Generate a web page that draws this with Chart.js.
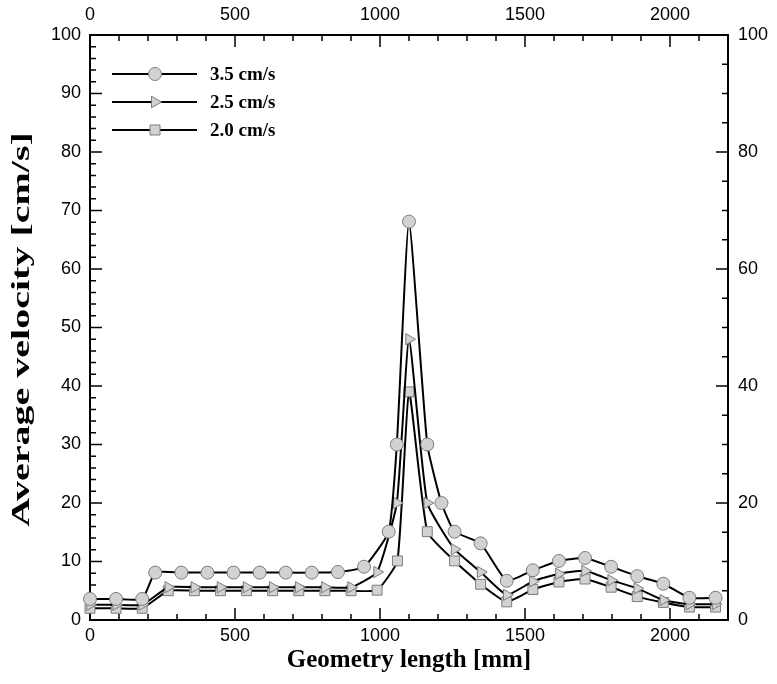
<!DOCTYPE html>
<html lang="en">
<head>
<meta charset="UTF-8">
<title>Average velocity - geometry length</title>
<script src="https://cdn.jsdelivr.net/npm/chart.js"></script>
<style>
    html, body { margin: 0; padding: 0; background: #fff; }
    #caixa { width: 777px; height: 684px; }
</style>
</head>
<body>
<div id="caixa"><canvas id="grafico"></canvas></div>
<script>
// valores
const legendas = ['3.5 cm/s', '2.5 cm/s', '2.0 cm/s'];

const x35 = [0, 90, 180, 225, 315, 405, 495, 585, 675, 765, 855, 945, 1030, 1058, 1100, 1163, 1212, 1257, 1347, 1437, 1527, 1617, 1707, 1797, 1887, 1977, 2067, 2157];
const v35 = [3.6, 3.6, 3.6, 8.1, 8.1, 8.1, 8.1, 8.1, 8.1, 8.1, 8.2, 9.1, 15.1, 30, 68.1, 30, 20, 15.1, 13.1, 6.7, 8.5, 10.1, 10.6, 9.1, 7.5, 6.2, 3.8, 3.8];

const x25 = [0, 90, 180, 270, 360, 450, 540, 630, 720, 810, 900, 990, 1058, 1100, 1163, 1257, 1347, 1437, 1527, 1617, 1707, 1797, 1887, 1977, 2067, 2157];
const v25 = [2.6, 2.6, 2.6, 5.6, 5.6, 5.6, 5.6, 5.6, 5.6, 5.6, 5.6, 8.2, 20, 48, 20, 12.1, 8.2, 4.3, 6.6, 7.9, 8.4, 6.8, 5.4, 3.4, 2.7, 2.7];

const x20 = [0, 90, 180, 270, 360, 450, 540, 630, 720, 810, 900, 990, 1060, 1100, 1163, 1257, 1347, 1437, 1527, 1617, 1707, 1797, 1887, 1977, 2067, 2157];
const v20 = [2.0, 2.0, 2.0, 5.0, 5.0, 5.0, 5.0, 5.0, 5.0, 5.0, 5.0, 5.1, 10.1, 39, 15.1, 10.1, 6.1, 3.1, 5.2, 6.5, 7.0, 5.6, 4.0, 3.0, 2.2, 2.2];

// rotulos dos eixos
const ticksBaixo = [0, 500, 1000, 1500, 2000];
const ticksCima = [0, 500, 1000, 1500, 2000];
const ticksEsq = [0, 10, 20, 30, 40, 50, 60, 70, 80, 90, 100];
const ticksDir = [0, 20, 40, 60, 80, 100];

const tituloX = 'Geometry length [mm]';
const tituloY = 'Average velocity [cm/s]';

const fonteNum = { family: "'Liberation Sans', Arial, sans-serif", size: 18 };
const fonteTitulo = { family: "'Liberation Serif', 'Times New Roman', serif", size: 25, weight: 'bold' };

function pontos(xs, ys) {
    return xs.map((x, i) => ({ x: x, y: ys[i] }));
}

function serie(nome, xs, ys, estilo, raio, rot) {
    return {
        label: nome,
        data: pontos(xs, ys),
        borderColor: '#000',
        borderWidth: 2,
        tension: 0.15,
        pointStyle: estilo,
        pointRadius: raio,
        pointHoverRadius: raio,
        pointRotation: rot,
        pointBackgroundColor: '#d2d2d2',
        pointBorderColor: '#7c7c7c',
        pointBorderWidth: 1,
        clip: false
    };
}

// marcas de escala para dentro + moldura
const marcas = {
    id: 'marcas',
    beforeDatasetsDraw(chart) {
        const ctx = chart.ctx;
        const a = chart.chartArea;
        const s = chart.scales;
        ctx.save();
        ctx.strokeStyle = '#000';
        ctx.lineWidth = 1.5;
        ctx.beginPath();
        for (let v = 0; v <= 2200; v += 100) {
            const px = s.x.getPixelForValue(v);
            const len = v % 500 === 0 ? 12 : 6;
            ctx.moveTo(px, a.bottom); ctx.lineTo(px, a.bottom - len);
            ctx.moveTo(px, a.top); ctx.lineTo(px, a.top + len);
        }
        for (let v = 0; v <= 100; v += 2) {
            const py = s.y.getPixelForValue(v);
            const len = v % 10 === 0 ? 12 : 6;
            ctx.moveTo(a.left, py); ctx.lineTo(a.left + len, py);
        }
        for (let v = 0; v <= 100; v += 5) {
            const py = s.y2.getPixelForValue(v);
            const len = v % 20 === 0 ? 12 : 6;
            ctx.moveTo(a.right, py); ctx.lineTo(a.right - len, py);
        }
        ctx.stroke();
        ctx.lineWidth = 2;
        ctx.strokeRect(a.left, a.top, a.right - a.left, a.bottom - a.top);
        ctx.restore();
    }
};

// titulo do eixo y (esticado como no original)
const tituloEsq = {
    id: 'tituloEsq',
    afterDraw(chart) {
        const ctx = chart.ctx;
        const a = chart.chartArea;
        ctx.save();
        ctx.translate(23, (a.top + a.bottom) / 2 + 2);
        ctx.rotate(-Math.PI / 2);
        ctx.scale(1.6, 1);
        ctx.fillStyle = '#000';
        ctx.font = "bold 25px 'Liberation Serif', 'Times New Roman', serif";
        ctx.textAlign = 'center';
        ctx.textBaseline = 'middle';
        ctx.fillText(tituloY, 0, 0);
        ctx.restore();
    }
};

function desenhaMarcador(ctx, estilo, x, y) {
    ctx.beginPath();
    if (estilo === 'circle') {
        ctx.arc(x, y, 6.5, 0, Math.PI * 2);
    } else if (estilo === 'triangle') {
        ctx.moveTo(x + 6.5, y);
        ctx.lineTo(x - 3.5, y - 5.8);
        ctx.lineTo(x - 3.5, y + 5.8);
        ctx.closePath();
    } else {
        ctx.rect(x - 5, y - 5, 10, 10);
    }
    ctx.fillStyle = '#d2d2d2';
    ctx.fill();
    ctx.lineWidth = 1;
    ctx.strokeStyle = '#7c7c7c';
    ctx.stroke();
}

const legendaDentro = {
    id: 'legendaDentro',
    afterDraw(chart) {
        const ctx = chart.ctx;
        const linhasY = [74, 102, 130];
        ctx.save();
        chart.data.datasets.forEach((ds, i) => {
            const y = linhasY[i];
            ctx.beginPath();
            ctx.moveTo(112, y);
            ctx.lineTo(197, y);
            ctx.lineWidth = 2;
            ctx.strokeStyle = '#000';
            ctx.stroke();
            desenhaMarcador(ctx, ds.pointStyle, 155, y);
            ctx.fillStyle = '#000';
            ctx.font = "bold 19px 'Liberation Serif', 'Times New Roman', serif";
            ctx.textBaseline = 'middle';
            ctx.textAlign = 'left';
            ctx.fillText(ds.label, 210, y + 1);
        });
        ctx.restore();
    }
};

function fixaTicks(lista) {
    return function (scale) {
        scale.ticks = lista.map(v => ({ value: v }));
    };
}

const semVirgula = v => String(v);

const config = {
    type: 'line',
    data: {
        datasets: [
            serie(legendas[0], x35, v35, 'circle', 6.5, 0),
            serie(legendas[1], x25, v25, 'triangle', 6.5, 90),
            serie(legendas[2], x20, v20, 'rect', 7, 0)
        ]
    },
    options: {
        responsive: true,
        maintainAspectRatio: false,
        animation: false,
        events: [],
        layout: { padding: 0 },
        plugins: {
            legend: { display: false },
            tooltip: { enabled: false }
        },
        scales: {
            x: {
                type: 'linear', position: 'bottom', min: 0, max: 2200,
                afterBuildTicks: fixaTicks(ticksBaixo),
                afterFit: s => { s.height = 64; },
                grid: { display: false, drawTicks: false },
                border: { display: false },
                ticks: { color: '#000', font: fonteNum, padding: 5, maxRotation: 0, callback: semVirgula },
                title: { display: true, text: tituloX, color: '#000', font: fonteTitulo, padding: { top: 8, bottom: 8 } }
            },
            x2: {
                type: 'linear', position: 'top', min: 0, max: 2200,
                afterBuildTicks: fixaTicks(ticksCima),
                afterFit: s => { s.height = 35; },
                grid: { display: false, drawTicks: false },
                border: { display: false },
                ticks: { color: '#000', font: fonteNum, padding: 9, maxRotation: 0, callback: semVirgula }
            },
            y: {
                type: 'linear', position: 'left', min: 0, max: 100,
                afterBuildTicks: fixaTicks(ticksEsq),
                afterFit: s => { s.width = 90; },
                grid: { display: false, drawTicks: false },
                border: { display: false },
                ticks: { color: '#000', font: fonteNum, padding: 9, callback: semVirgula }
            },
            y2: {
                type: 'linear', position: 'right', min: 0, max: 100,
                afterBuildTicks: fixaTicks(ticksDir),
                afterFit: s => { s.width = 49; },
                grid: { display: false, drawTicks: false },
                border: { display: false },
                ticks: { color: '#000', font: fonteNum, padding: 10, callback: semVirgula }
            }
        }
    },
    plugins: [marcas, tituloEsq, legendaDentro]
};

const grafico = new Chart(document.getElementById('grafico'), config);
</script>
</body>
</html>
